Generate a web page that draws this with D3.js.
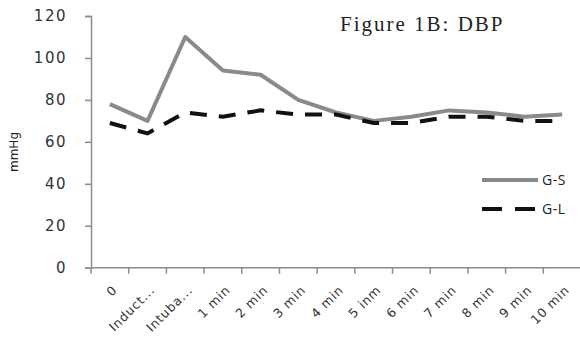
<!DOCTYPE html>
<html>
<head>
<meta charset="utf-8">
<script src="https://cdn.jsdelivr.net/npm/d3@7"></script>
<style>
  body { margin: 0; background: #fff; }
  svg { display: block; }
</style>
</head>
<body>
<svg id="chart" width="580" height="338"></svg>
<script>
// Data
const categories = ['0', 'Induct...', 'Intuba...', '1 min', '2 min', '3 min', '4 min',
                    '5 inm', '6 min', '7 min', '8 min', '9 min', '10 min'];
const gsValues = [78, 70, 110, 94, 92, 80, 74, 70, 72, 75, 74, 72, 73];
const glValues = [69, 64, 74, 72, 75, 73, 73, 69, 69, 72, 72, 70, 70];
const yTicks = [0, 20, 40, 60, 80, 100, 120];

const svg = d3.select('#chart');
const margin = { left: 91, right: -1, top: 16, bottom: 70 };
const width = 580;
const height = 338;

// Scales
const x = d3.scaleBand()
    .domain(categories)
    .range([margin.left, width - margin.right])
    .padding(0);
const y = d3.scaleLinear()
    .domain([0, 120])
    .range([height - margin.bottom - 0.3, margin.top]);

const axisColor = '#8c8c8c';

// Y axis
const yAxis = svg.append('g')
    .attr('transform', `translate(${margin.left},0)`)
    .call(d3.axisLeft(y).tickValues(yTicks).tickSize(6).tickPadding(18));
yAxis.select('.domain').attr('stroke', axisColor).attr('stroke-width', 1.5);
yAxis.selectAll('.tick line').attr('stroke', axisColor).attr('stroke-width', 1.5);
yAxis.selectAll('.tick text')
    .attr('fill', '#333')
    .style('font-family', 'DejaVu Sans')
    .style('font-size', '15px')
    .style('letter-spacing', '1.5px');

// X axis with ticks on band boundaries
const xAxisG = svg.append('g')
    .attr('transform', `translate(0,${y(0)})`);
xAxisG.append('line')
    .attr('x1', margin.left).attr('x2', width)
    .attr('stroke', axisColor).attr('stroke-width', 1.5);
xAxisG.selectAll('.bound')
    .data(categories)
    .join('line')
    .attr('class', 'bound')
    .attr('x1', d => x(d)).attr('x2', d => x(d))
    .attr('y1', 0).attr('y2', 6)
    .attr('stroke', axisColor).attr('stroke-width', 1.5);
xAxisG.selectAll('.xlabel')
    .data(categories)
    .join('text')
    .attr('class', 'xlabel')
    .attr('transform', d => `translate(${x(d) + x.bandwidth() / 2 + 5},${20}) rotate(-45)`)
    .attr('text-anchor', 'end')
    .attr('dy', '0.35em')
    .attr('fill', '#333')
    .style('font-family', 'DejaVu Sans')
    .style('font-size', '12.5px')
    .style('letter-spacing', '0.8px')
    .text(d => d);

// Y axis title
svg.append('text')
    .attr('transform', 'translate(18,152) rotate(-90)')
    .attr('text-anchor', 'middle')
    .attr('fill', '#222')
    .style('font-family', 'DejaVu Sans')
    .style('font-size', '12px')
    .text('mmHg');

// Chart title
svg.append('text')
    .attr('x', 340)
    .attr('y', 31)
    .attr('fill', '#222')
    .style('font-family', 'Liberation Serif')
    .style('font-size', '21px')
    .style('letter-spacing', '2px')
    .text('Figure 1B: DBP');

// Lines
const line = d3.line()
    .x((d, i) => x(categories[i]) + x.bandwidth() / 2)
    .y(d => y(d));

svg.append('path')
    .datum(gsValues)
    .attr('d', line)
    .attr('fill', 'none')
    .attr('stroke', '#8a8a8a')
    .attr('stroke-width', 4)
    .attr('stroke-linejoin', 'round');

svg.append('path')
    .datum(glValues)
    .attr('d', line)
    .attr('fill', 'none')
    .attr('stroke', '#111')
    .attr('stroke-width', 4)
    .attr('stroke-dasharray', '17,12');

// Legend
const legend = [
  { name: 'G-S', color: '#8a8a8a', dash: null, y: 180 },
  { name: 'G-L', color: '#111', dash: '20,13', y: 209 }
];
const lg = svg.append('g');
legend.forEach(d => {
  lg.append('line')
    .attr('x1', 482).attr('x2', 538)
    .attr('y1', d.y).attr('y2', d.y)
    .attr('stroke', d.color)
    .attr('stroke-width', 4)
    .attr('stroke-dasharray', d.dash);
  lg.append('text')
    .attr('x', 542)
    .attr('y', d.y)
    .attr('dy', '0.35em')
    .attr('fill', '#222')
    .style('font-family', 'Open Sans')
    .style('font-size', '14px')
    .style('letter-spacing', '0.5px')
    .text(d.name);
});
</script>
</body>
</html>
